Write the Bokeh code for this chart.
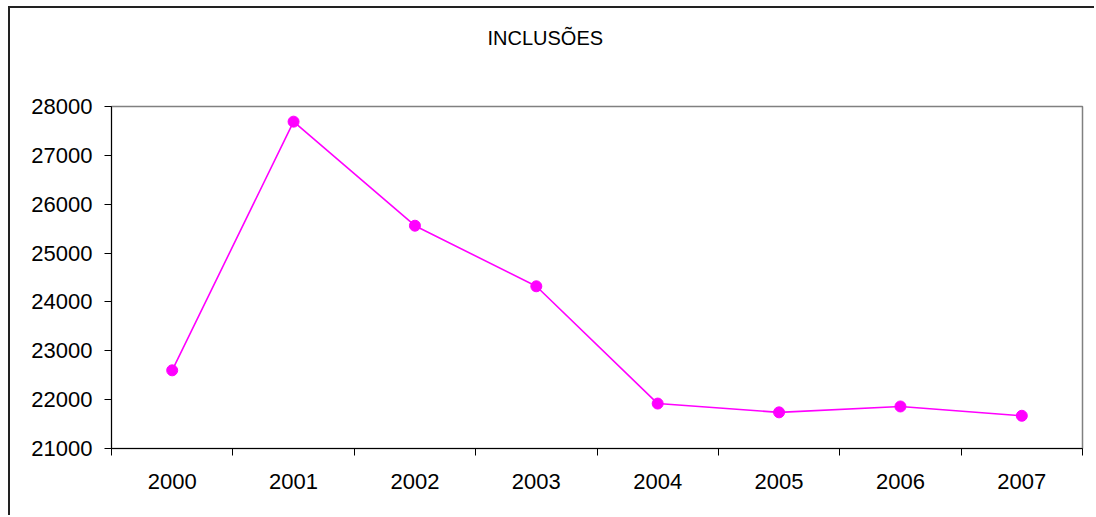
from bokeh.plotting import figure
from bokeh.models import FixedTicker, LinearAxis, ColumnDataSource, Range1d, Title
from bokeh.embed import file_html
from bokeh.resources import INLINE

# Data
years = ["2000", "2001", "2002", "2003", "2004", "2005", "2006", "2007"]
inclusoes = [22600, 27690, 25560, 24320, 21920, 21740, 21860, 21670]
y_ticks = [21000, 22000, 23000, 24000, 25000, 26000, 27000, 28000]
title_text = "INCLUSÕES"

FONT = "Liberation Sans"
FS = "22px"

xpos = [i + 0.5 for i in range(len(years))]
src = ColumnDataSource(dict(x=xpos, y=inclusoes, year=years))

OX, OY = 10, 8  # canvas origin on the page
W = 1096 - OX
H = 517 - OY

p = figure(width=W, height=H, output_backend="svg", toolbar_location=None,
           x_range=Range1d(0, len(years)), y_range=Range1d(y_ticks[0], y_ticks[-1]),
           min_border_left=111 - OX, min_border_right=W - (1082 - OX),
           min_border_top=106 - OY, min_border_bottom=H - (448 - OY),
           x_axis_location=None, y_axis_location=None,
           margin=(OY, 0, 0, OX))
p.styles = {"box-shadow": "-2px -2px 0px 0px #222222"}

# main title outermost, spacer panel next to the frame
p.title = Title(text=title_text, align="left", offset=376, standoff=0,
                text_font=FONT, text_font_size="20px", text_font_style="normal",
                text_color="#000000")
spacer = Title(text=" ", text_font=FONT, text_font_size="50px", standoff=0)
p.add_layout(spacer, "above")

p.background_fill_color = "white"
p.border_fill_color = "white"
p.outline_line_color = "#808080"
p.outline_line_width = 1.5
p.xgrid.visible = False
p.ygrid.visible = False

yaxis = LinearAxis(ticker=FixedTicker(ticks=y_ticks))
yaxis.axis_line_color = "#000000"
yaxis.major_tick_line_color = "#000000"
yaxis.major_tick_out = 7
yaxis.major_tick_in = 0
yaxis.minor_tick_line_color = None
yaxis.major_label_text_font = FONT
yaxis.major_label_text_font_size = FS
yaxis.major_label_standoff = 12
yaxis.major_label_text_color = "#000000"
p.add_layout(yaxis, "left")

xaxis = LinearAxis(ticker=FixedTicker(ticks=xpos, minor_ticks=list(range(len(years) + 1))))
xaxis.major_label_overrides = {x: y for x, y in zip(xpos, years)}
xaxis.axis_line_color = "#000000"
xaxis.major_tick_out = 0
xaxis.major_tick_in = 0
xaxis.major_tick_line_color = None
xaxis.minor_tick_line_color = "#000000"
xaxis.minor_tick_out = 7
xaxis.minor_tick_in = 0
xaxis.major_label_text_font = FONT
xaxis.major_label_text_font_size = FS
xaxis.major_label_standoff = 18
xaxis.major_label_text_color = "#000000"
p.add_layout(xaxis, "below")

p.line("x", "y", source=src, line_color="#FF00FF", line_width=1.6)
p.scatter("x", "y", source=src, size=11, fill_color="#FF00FF", line_color="#FF00FF")

open("out.html", "w").write(file_html(p, INLINE))
